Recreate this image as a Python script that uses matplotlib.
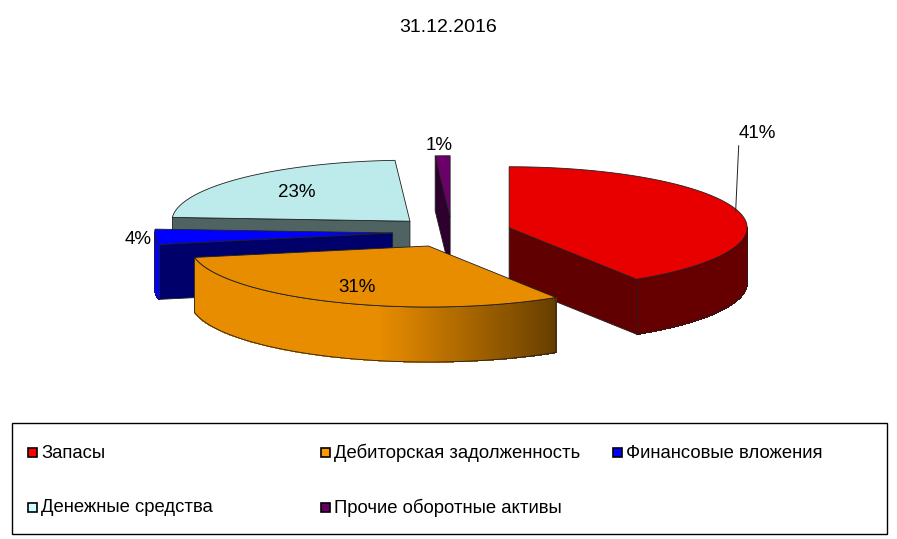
import numpy as np
import matplotlib.pyplot as plt
from matplotlib.patches import Polygon, Rectangle
from matplotlib.colors import to_rgb

plt.rcParams['font.family'] = ['Liberation Sans', 'DejaVu Sans']

title = '31.12.2016'
categories = ['Запасы', 'Дебиторская задолженность', 'Финансовые вложения',
              'Денежные средства', 'Прочие оборотные активы']
shares = [41, 31, 4, 23, 1]
colors = ['#E80000', '#E88C00', '#0000FF', '#BDEBEB', '#6B006B']
legend_colors = ['#FF0000', '#FF9900', '#0000FF', '#CCFFFF', '#660066']

# раскладка в пикселях
W, H = 897, 539
cx, cy = 452, 232
rx, ry = 238, 61
depth = 55
explode = 0.25
edge = '#202020'

# подписи: (доля радиуса, сдвиг по x, сдвиг по y)
label_pos = [(1.0, 20, -77), (0.75, 0, 0), (1.0, -17, 3), (0.67, 0, 0), (1.0, -4, -10)]


def shade(c, k):
    r, g, b = to_rgb(c)
    return (r * k, g * k, b * k)


def wall_k(t):
    # боковая стенка светлее слева, темнее справа
    return 0.44 + 0.56 * np.clip((t - 148) / 44, 0, 1)


def pt(ax0, ay0, t, dy=0.0):
    a = np.radians(t)
    return (ax0 + rx * np.sin(a), ay0 - ry * np.cos(a) + dy)


fig = plt.figure(figsize=(W / 100, H / 100), dpi=100)
ax = fig.add_axes([0, 0, 1, 1])
ax.set_xlim(0, W)
ax.set_ylim(H, 0)
ax.axis('off')

total = sum(shares)
bounds = np.cumsum([0] + shares) / total * 360

slices = []
for i in range(len(shares)):
    t1, t2 = bounds[i], bounds[i + 1]
    tm = np.radians((t1 + t2) / 2)
    apx = cx + explode * rx * np.sin(tm)
    apy = cy - explode * ry * np.cos(tm)
    slices.append((np.cos(tm), i, t1, t2, apx, apy))

# рисуем от задних к передним
slices.sort(key=lambda s: -s[0])

for _, i, t1, t2, apx, apy in slices:
    c = colors[i]
    # радиальные грани
    for t, side in ((t1, 'start'), (t2, 'end')):
        s = np.sin(np.radians(t))
        visible = s < -1e-9 if side == 'start' else s > 1e-9
        if not visible:
            continue
        p = pt(apx, apy, t)
        quad = [(apx, apy), p, (p[0], p[1] + depth), (apx, apy + depth)]
        ax.add_patch(Polygon(quad, closed=True, facecolor=shade(c, 0.42),
                             edgecolor=edge, lw=0.6))
    # внешняя стенка
    a, b = max(t1, 90), min(t2, 270)
    if b > a:
        ts = np.linspace(a, b, max(int((b - a) * 2), 2) + 1)
        for k in range(len(ts) - 1):
            p0 = pt(apx, apy, ts[k])
            p1 = pt(apx, apy, ts[k + 1])
            col = shade(c, wall_k((ts[k] + ts[k + 1]) / 2))
            ax.add_patch(Polygon([p0, p1, (p1[0], p1[1] + depth), (p0[0], p0[1] + depth)],
                                 closed=True, facecolor=col, edgecolor=col, lw=0.5,
                                 antialiased=False))
        top = [pt(apx, apy, t) for t in ts]
        bot = [pt(apx, apy, t, depth) for t in ts[::-1]]
        ax.add_patch(Polygon(top + bot, closed=True, fill=False, edgecolor=edge, lw=0.6))
    # верхняя грань
    ts = np.linspace(t1, t2, max(int((t2 - t1) * 2), 2) + 1)
    face = [(apx, apy)] + [pt(apx, apy, t) for t in ts]
    ax.add_patch(Polygon(face, closed=True, facecolor=c, edgecolor=edge, lw=0.6))

# подписи процентов
for _, i, t1, t2, apx, apy in slices:
    f, ox, oy = label_pos[i]
    tm = np.radians((t1 + t2) / 2)
    x = apx + f * rx * np.sin(tm)
    y = apy - f * ry * np.cos(tm)
    txt = f'{shares[i] / total * 100:.0f}%'
    if abs(oy) > 30:
        ax.plot([x - 2, x + 1], [y, y + oy + 12], color=edge, lw=0.7)
    ax.text(x + ox, y + oy, txt, ha='center', va='center', fontsize=13.5)

ax.text(W / 2, 27, title, ha='center', va='center', fontsize=14)

# легенда
ax.add_patch(Rectangle((12, 423), 875, 111, fill=False, edgecolor='black', lw=1))
leg_x = [28, 321, 613]
leg_y = [452, 507]
for i, name in enumerate(categories):
    x = leg_x[i % 3]
    y = leg_y[i // 3]
    ax.add_patch(Rectangle((x, y - 4.5), 9, 9, facecolor=legend_colors[i],
                           edgecolor='black', lw=1.2))
    ax.text(x + 13, y + 1, name, ha='left', va='center', fontsize=13.3)

fig.savefig('out.png', dpi=100)
